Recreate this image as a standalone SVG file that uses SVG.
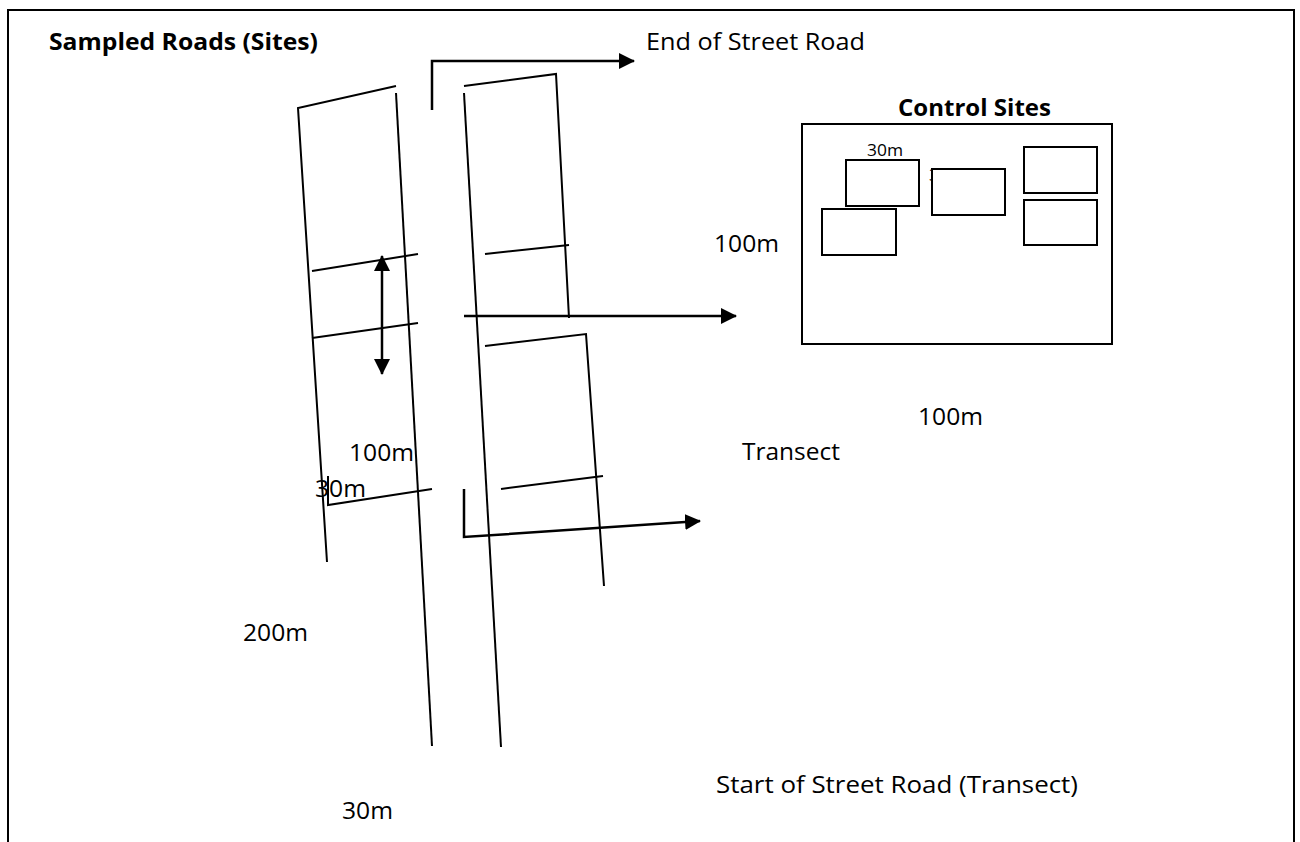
<svg xmlns="http://www.w3.org/2000/svg" width="1300" height="842" viewBox="0 0 1300 842">
<style>
.ln{fill:none;stroke:#000;stroke-width:2;stroke-linecap:butt}
.ar{fill:none;stroke:#000;stroke-width:2.5}
.bx{fill:#fff;stroke:#000;stroke-width:2}
.t{font-family:"Open Sans","Liberation Sans",sans-serif;font-size:23px;fill:#000}
.tb{font-family:"Open Sans","Liberation Sans",sans-serif;font-size:23px;font-weight:bold;fill:#000}
.ts{font-family:"Open Sans","Liberation Sans",sans-serif;font-size:16px;fill:#000}
</style>
<defs>
<marker id="ah" markerUnits="userSpaceOnUse" markerWidth="16" markerHeight="16" viewBox="0 0 16 16" refX="15" refY="8" orient="auto-start-reverse">
<path d="M0,0 L16,8 L0,16 Z" fill="#000"/>
</marker>
</defs>
<rect width="1300" height="842" fill="#fff"/>
<path class="ln" d="M8,842 V10 H1294 V842"/>
<g id="title"><text class="tb" x="49" y="50" textLength="269" lengthAdjust="spacingAndGlyphs">Sampled Roads (Sites)</text></g>
<g id="road-left">
<path class="ln" d="M327,562 L298,108 L396,86"/>
<path class="ln" d="M396,93 L432,746"/>
<path class="ln" d="M312,271 L418,254"/>
<path class="ln" d="M312,338 L418,323"/>
<path class="ln" d="M328,476 V505 L432,489"/>
</g>
<g id="road-right">
<path class="ln" d="M464,93 L501,747"/>
<path class="ln" d="M464,86 L556,74 L569,318"/>
<path class="ln" d="M485,254 L569,245"/>
<path class="ln" d="M485,346 L586,334 L604,586"/>
<path class="ln" d="M501,489 L603,476"/>
</g>
<g id="connectors">
<path class="ar" d="M432,110 V61 H634" marker-end="url(#ah)"/>
<path class="ar" d="M464,316 H736" marker-end="url(#ah)"/>
<path class="ar" d="M464,489 V537 L700,521" marker-end="url(#ah)"/>
<path class="ar" d="M382,256 V374" marker-start="url(#ah)" marker-end="url(#ah)"/>
</g>
<g id="control-sites">
<text class="tb" x="898" y="116" textLength="153" lengthAdjust="spacingAndGlyphs">Control Sites</text>
<rect class="bx" x="802" y="124" width="310" height="220"/>
<text class="ts" x="867" y="156" textLength="36" lengthAdjust="spacingAndGlyphs">30m</text>
<rect class="bx" x="846" y="160" width="73" height="46"/>
<rect class="bx" x="822" y="209" width="74" height="46"/>
<text class="ts" x="929" y="181" textLength="36" lengthAdjust="spacingAndGlyphs">30m</text>
<rect class="bx" x="932" y="169" width="73" height="46"/>
<rect class="bx" x="1024" y="147" width="73" height="46"/>
<rect class="bx" x="1024" y="200" width="73" height="45"/>
</g>
<g id="labels">
<text class="t" x="646" y="50" textLength="219" lengthAdjust="spacingAndGlyphs">End of Street Road</text>
<text class="t" x="714" y="252" textLength="65" lengthAdjust="spacingAndGlyphs">100m</text>
<text class="t" x="918" y="425" textLength="65" lengthAdjust="spacingAndGlyphs">100m</text>
<text class="t" x="742" y="460" textLength="98" lengthAdjust="spacingAndGlyphs">Transect</text>
<text class="t" x="349" y="461" textLength="65" lengthAdjust="spacingAndGlyphs">100m</text>
<text class="t" x="315" y="497" textLength="51" lengthAdjust="spacingAndGlyphs">30m</text>
<text class="t" x="243" y="641" textLength="65" lengthAdjust="spacingAndGlyphs">200m</text>
<text class="t" x="716" y="793" textLength="362" lengthAdjust="spacingAndGlyphs">Start of Street Road (Transect)</text>
<text class="t" x="342" y="819" textLength="51" lengthAdjust="spacingAndGlyphs">30m</text>
</g>
</svg>
